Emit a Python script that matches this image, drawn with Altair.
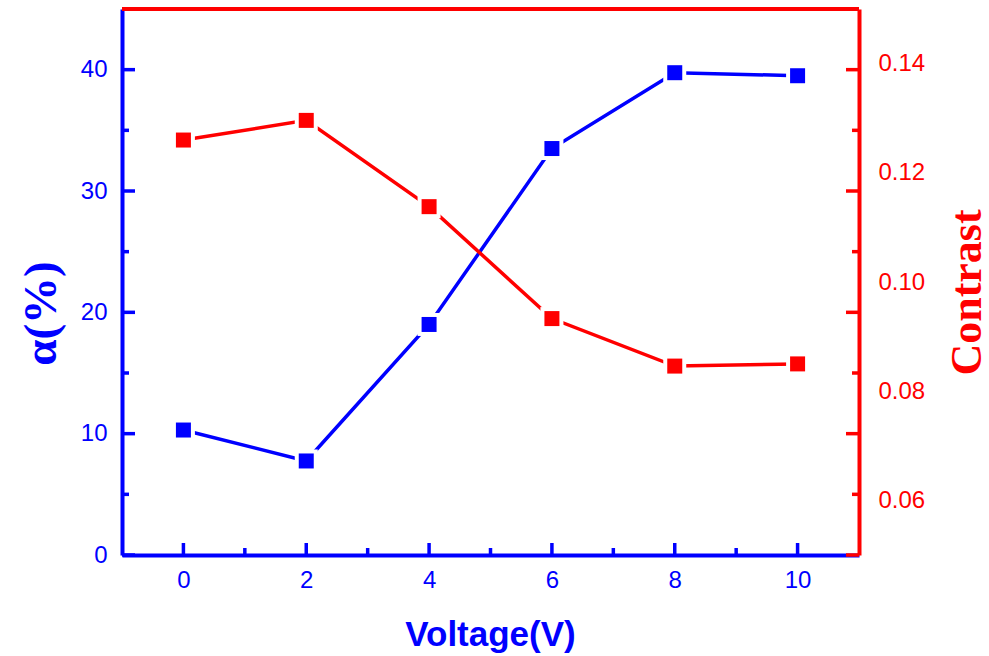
import altair as alt
import pandas as pd

# ---- data ----
voltage = [0, 2, 4, 6, 8, 10]
alpha_pct = [10.3, 7.75, 19.0, 33.5, 39.75, 39.5]
contrast = [0.1260, 0.1296, 0.1138, 0.0933, 0.0846, 0.0850]

x_label_values = [0, 2, 4, 6, 8, 10]
x_minor_ticks = [1, 3, 5, 7, 9]
left_label_values = [0, 10, 20, 30, 40]
left_minor_ticks = [5, 15, 25, 35]
right_label_values = [0.06, 0.08, 0.10, 0.12, 0.14]

BLUE = "#0000FF"
RED = "#FF0000"
W, H = 737, 546

df = pd.DataFrame({"voltage": voltage, "alpha": alpha_pct, "contrast": contrast})
x_major_df = pd.DataFrame({"v": x_label_values})
x_minor_df = pd.DataFrame({"v": x_minor_ticks})
y_major_df = pd.DataFrame({"v": left_label_values})
y_minor_df = pd.DataFrame({"v": left_minor_ticks})

x_scale = alt.Scale(domain=[-1, 11], nice=False, zero=False)
blue_scale = alt.Scale(domain=[0, 45], nice=False, zero=False)
red_scale = alt.Scale(domain=[0.05, 0.15], nice=False, zero=False)

x_axis = alt.Axis(
    values=x_label_values, format="d", ticks=False, tickSize=0, grid=False,
    domain=True, domainColor=BLUE, domainWidth=4,
    labelColor=BLUE, labelFont="Liberation Sans", labelFontSize=24, labelPadding=13,
    title="Voltage(V)", titleColor=BLUE, titleFont="Liberation Sans",
    titleFontWeight="bold", titleFontSize=35, titleX=368, titleY=90,
    titleAlign="center", titleBaseline="alphabetic",
)
blue_axis = alt.Axis(
    orient="left", values=left_label_values, format="d", ticks=False, tickSize=0,
    grid=False, domain=True, domainColor=BLUE, domainWidth=4,
    labelColor=BLUE, labelFont="Liberation Sans", labelFontSize=24, labelPadding=15,
    title="α(%)", titleColor=BLUE, titleFont="Liberation Serif", titleFontWeight="bold",
    titleFontSize=47, titleAngle=270, titleAlign="center", titleBaseline="alphabetic",
    titleX=-67, titleY=304,
)
red_axis = alt.Axis(
    orient="right", values=right_label_values, format=".2f", ticks=False, tickSize=0,
    grid=False, domain=True, domainColor=RED, domainWidth=4,
    labelColor=RED, labelFont="Liberation Sans", labelFontSize=24, labelPadding=19,
    title="Contrast", titleColor=RED, titleFont="Liberation Serif", titleFontWeight="bold",
    titleFontSize=44, titleAngle=270, titleAlign="center", titleBaseline="alphabetic",
    titleX=121, titleY=283,
)

xb = alt.X("voltage:Q", scale=x_scale, axis=x_axis)
yb = alt.Y("alpha:Q", scale=blue_scale, axis=blue_axis)
yr = alt.Y("contrast:Q", scale=red_scale, axis=red_axis)

base_b = alt.Chart(df).encode(x=xb, y=yb)
blue_line = base_b.mark_line(color=BLUE, strokeWidth=3.5)
blue_gap = base_b.mark_square(color="white", size=23 * 23, opacity=1)
blue_pts = base_b.mark_square(color=BLUE, size=15 * 15, opacity=1)

# inward tick marks (left, right use left scale positions; bottom uses x scale)
yv = alt.Y("v:Q", scale=blue_scale, axis=blue_axis)
xv = alt.X("v:Q", scale=x_scale, axis=x_axis)
left_major = alt.Chart(y_major_df).mark_rule(color=BLUE, strokeWidth=3.5).encode(
    y=yv, x=alt.value(0), x2=alt.value(13))
left_minor = alt.Chart(y_minor_df).mark_rule(color=BLUE, strokeWidth=3.5).encode(
    y=yv, x=alt.value(0), x2=alt.value(7))
right_major = alt.Chart(y_major_df).mark_rule(color=RED, strokeWidth=3.5).encode(
    y=yv, x=alt.value(W - 13), x2=alt.value(W))
right_minor = alt.Chart(y_minor_df).mark_rule(color=RED, strokeWidth=3.5).encode(
    y=yv, x=alt.value(W - 7), x2=alt.value(W))
bottom_major = alt.Chart(x_major_df).mark_rule(color=BLUE, strokeWidth=3.5).encode(
    x=xv, y=alt.value(H), y2=alt.value(H - 12))
bottom_minor = alt.Chart(x_minor_df).mark_rule(color=BLUE, strokeWidth=3.5).encode(
    x=xv, y=alt.value(H), y2=alt.value(H - 7))

blue_layer = alt.layer(blue_line, blue_gap, blue_pts, left_major, left_minor,
                       bottom_major, bottom_minor, right_major, right_minor)

base_r = alt.Chart(df).encode(x=xb, y=yr)
red_line = base_r.mark_line(color=RED, strokeWidth=3.5)
red_gap = base_r.mark_square(color="white", size=23 * 23, opacity=1)
red_pts = base_r.mark_square(color=RED, size=15 * 15, opacity=1)
red_layer = alt.layer(red_line, red_gap, red_pts)

top_border = alt.Chart(x_major_df).mark_rule(color=RED, strokeWidth=4).encode(
    x=alt.value(0), x2=alt.value(W), y=alt.value(0))

chart = alt.layer(blue_layer, red_layer, top_border).resolve_scale(
    y="independent"
).properties(
    width=W, height=H,
    autosize=alt.AutoSizeParams(type="none"),
    padding={"left": 122, "top": 9, "right": 989 - 122 - W, "bottom": 656 - 9 - H},
    background="white",
).configure_view(stroke=None)

chart.save("out.html", embed_options={"renderer": "svg", "actions": False})
